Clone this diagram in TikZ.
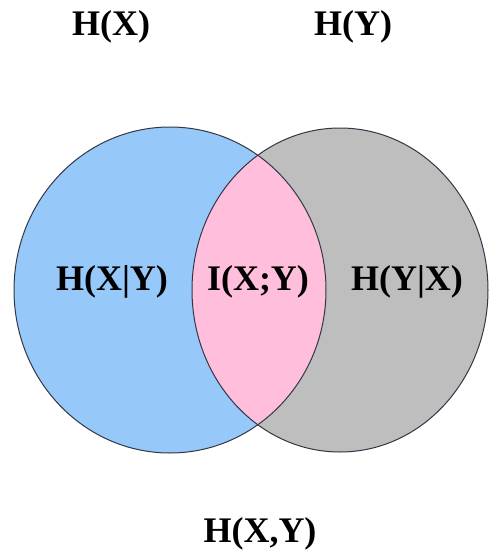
\documentclass[tikz,border=0pt]{standalone}
\usepackage{fontspec}
\setmainfont{Liberation Serif}
\definecolor{cblue}{RGB}{150,200,250}
\definecolor{cgray}{RGB}{190,190,190}
\definecolor{cpink}{RGB}{255,190,220}
\definecolor{cline}{RGB}{50,55,70}
\begin{document}
\begin{tikzpicture}[x=1pt,y=-1pt,
  lab/.style={font=\fontsize{36}{40}\selectfont\bfseries, inner sep=0pt, text=black},
  rim/.style={draw=cline, line width=1pt}]
\useasboundingbox (0,0) rectangle (488,560);
\fill[white] (0,0) rectangle (488,560);
\fill[cblue] (170,290) ellipse [x radius=156, y radius=163];
\fill[cgray] (340,290) ellipse [x radius=148, y radius=162];
\begin{scope}
  \clip (170,290) ellipse [x radius=156, y radius=163];
  \fill[cpink] (340,290) ellipse [x radius=148, y radius=162];
\end{scope}
\draw[rim] (170,290) ellipse [x radius=156, y radius=163];
\draw[rim] (340,290) ellipse [x radius=148, y radius=162];
\node[lab] (hx) at (111,27) {H(X)};
\node[lab] (hy) at (353,27) {H(Y)};
\node[lab] (hxy) at (112,282) {H(X|Y)};
\node[lab] (ixy) at (258,282) {I(X;Y)};
\node[lab] (hyx) at (407,282) {H(Y|X)};
\node[lab] (hjoint) at (260,534) {H(X,Y)};
\end{tikzpicture}
\end{document}
